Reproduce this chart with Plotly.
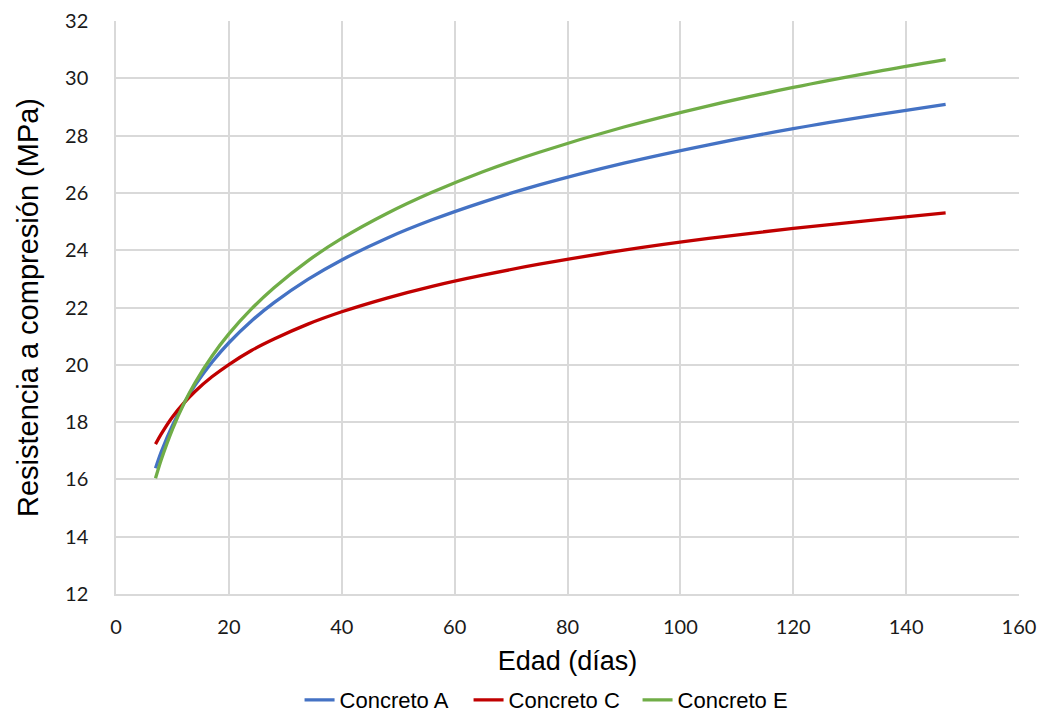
import plotly.graph_objects as go

# Edad de ensayo (días) y resistencia a compresión (MPa) de cada concreto
edad = [7, 8, 10, 12, 14, 17, 20, 24, 28, 34, 40, 48, 56, 65, 75, 90, 105, 120, 135, 147]

concreto_a = [16.39, 16.95, 17.88, 18.64, 19.28, 20.09, 20.77, 21.53, 22.17, 22.98,
              23.66, 24.42, 25.06, 25.68, 26.28, 27.04, 27.68, 28.24, 28.73, 29.09]
concreto_c = [17.23, 17.58, 18.18, 18.66, 19.07, 19.58, 20.01, 20.50, 20.90, 21.42,
              21.85, 22.33, 22.74, 23.13, 23.51, 24.00, 24.41, 24.76, 25.07, 25.30]
concreto_e = [16.04, 16.68, 17.75, 18.63, 19.37, 20.30, 21.08, 21.95, 22.69, 23.63,
              24.41, 25.28, 26.02, 26.74, 27.42, 28.30, 29.04, 29.68, 30.24, 30.65]

series = [
    ("Concreto A", concreto_a, "#4472C4"),
    ("Concreto C", concreto_c, "#C00000"),
    ("Concreto E", concreto_e, "#70AD47"),
]

x_ticks = list(range(0, 161, 20))
y_ticks = list(range(12, 33, 2))

fig = go.Figure()
for nombre, valores, color in series:
    fig.add_trace(go.Scatter(
        x=edad, y=valores, name=nombre, mode="lines",
        line=dict(color=color, width=3.3, shape="spline", smoothing=0.8),
    ))

tick_font = dict(family="Lato, Open Sans, sans-serif", size=20, color="#1a1a1a")
sans = "Liberation Sans, Arial, sans-serif"

fig.update_layout(
    width=1044, height=713,
    paper_bgcolor="white", plot_bgcolor="white",
    margin=dict(l=116, r=25, t=21, b=119, autoexpand=False),
    showlegend=True,
    legend=dict(orientation="h", x=0.484, xanchor="center", y=-0.185, yanchor="middle",
                font=dict(family=sans, size=22, color="#000000"),
                itemwidth=30, tracegroupgap=0, entrywidth=124, entrywidthmode="pixels"),
    xaxis=dict(
        range=[0, 160], tickvals=x_ticks, ticktext=[str(v) for v in x_ticks],
        showgrid=True, gridcolor="#D9D9D9", gridwidth=1.5,
        showline=True, linecolor="#D9D9D9", linewidth=1.5, zeroline=False,
        ticks="", tickfont=tick_font, ticklabelstandoff=14,
        title=dict(text="Edad (días)", font=dict(family=sans, size=27, color="#000000"), standoff=14),
    ),
    yaxis=dict(
        range=[12, 32], tickvals=y_ticks, ticktext=[str(v) for v in y_ticks],
        showgrid=True, gridcolor="#D9D9D9", gridwidth=1.5,
        showline=True, linecolor="#D9D9D9", linewidth=1.5, zeroline=False,
        ticks="", tickfont=tick_font, ticklabelstandoff=22,
        title=dict(text="Resistencia a compresión (MPa)", font=dict(family=sans, size=29, color="#000000"), standoff=18),
    ),
)

fig.write_html("out.html")
